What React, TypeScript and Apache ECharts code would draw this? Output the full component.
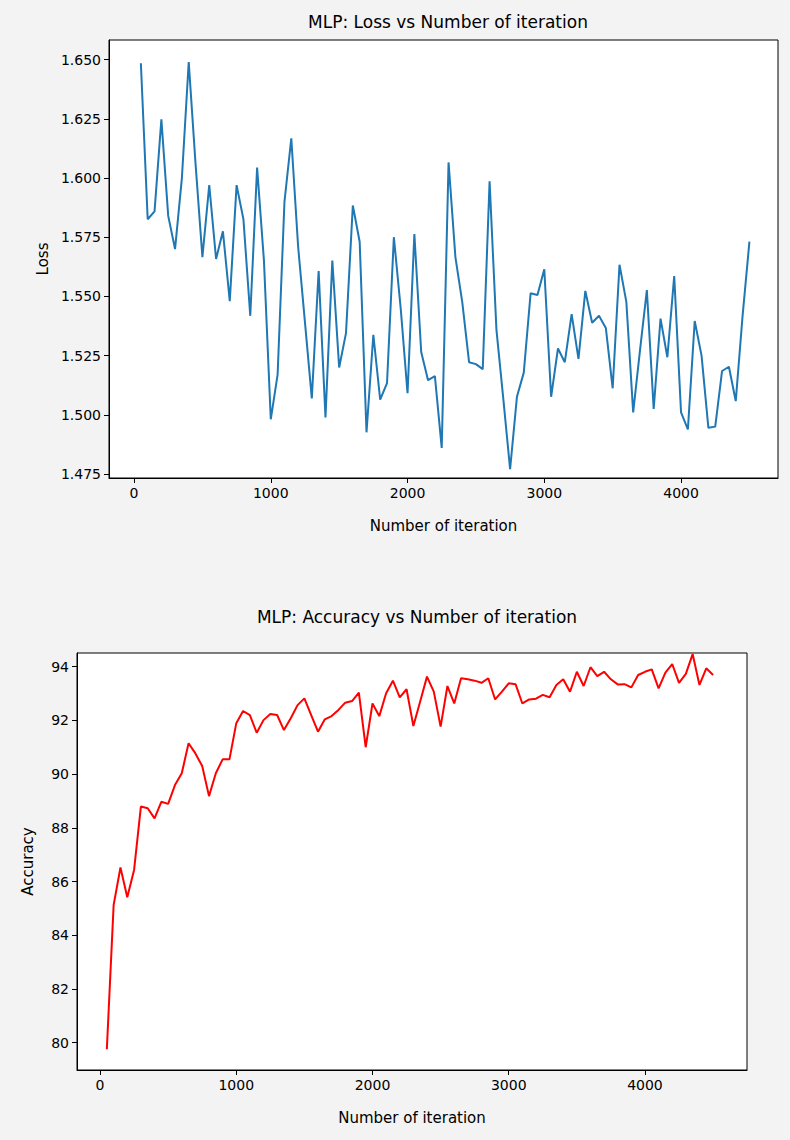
import { useEffect, useRef } from 'react';
import * as echarts from 'echarts';

const iterations = Array.from({ length: 90 }, (_, i) => (i + 1) * 50);

const lossValues = [
  1.6485, 1.5826, 1.5859, 1.6248, 1.584, 1.570, 1.600, 1.649, 1.6059, 1.5666,
  1.597, 1.5658, 1.5775, 1.548, 1.597, 1.5826, 1.5418, 1.6044, 1.5651, 1.4981,
  1.517, 1.5899, 1.6168, 1.571, 1.539, 1.5069, 1.5607, 1.4989, 1.5651, 1.520,
  1.5345, 1.5884, 1.5731, 1.4926, 1.5338, 1.5064, 1.5134, 1.575, 1.545, 1.5091,
  1.5763, 1.5265, 1.5146, 1.5163, 1.486, 1.6066, 1.5666, 1.5477, 1.5222, 1.5214,
  1.5193, 1.5986, 1.536, 1.5069, 1.477, 1.5076, 1.5178, 1.5513, 1.5506, 1.5615,
  1.5076, 1.528, 1.5222, 1.5425, 1.5236, 1.5523, 1.5389, 1.5418, 1.5367, 1.5112,
  1.5634, 1.5477, 1.501, 1.5273, 1.5527, 1.5025, 1.5406, 1.5243, 1.5586, 1.501,
  1.4938, 1.5396, 1.525, 1.4945, 1.495, 1.5185, 1.5203, 1.5058, 1.5418, 1.5731,
];

const accuracyValues = [
  79.75, 85.13, 86.52, 85.41, 86.43, 88.79, 88.73, 88.35, 88.97, 88.89,
  89.59, 90.03, 91.15, 90.77, 90.3, 89.18, 90.03, 90.55, 90.55, 91.89,
  92.35, 92.2, 91.54, 92.01, 92.24, 92.2, 91.64, 92.08, 92.57, 92.82,
  92.2, 91.58, 92.04, 92.16, 92.39, 92.66, 92.72, 93.03, 91.0, 92.63,
  92.16, 93.01, 93.48, 92.86, 93.16, 91.79, 92.7, 93.63, 93.07, 91.77,
  93.28, 92.63, 93.57, 93.53, 93.48, 93.4, 93.57, 92.78, 93.07, 93.38,
  93.35, 92.63, 92.78, 92.81, 92.95, 92.86, 93.32, 93.53, 93.07, 93.81,
  93.28, 93.98, 93.65, 93.81, 93.53, 93.34, 93.35, 93.23, 93.69, 93.81,
  93.9, 93.19, 93.78, 94.1, 93.4, 93.73, 94.47, 93.32, 93.94, 93.69,
];

const xTicks = [0, 1000, 2000, 3000, 4000];
const lossTicks = [1.475, 1.5, 1.525, 1.55, 1.575, 1.6, 1.625, 1.65];
const accTicks = [80, 82, 84, 86, 88, 90, 92, 94];

const font = 'DejaVu Sans';
const axisLine = { show: true, onZero: false, lineStyle: { color: '#000', width: 1 } };

const xAxisBase = (gridIndex: number, min: number, max: number) => ({
  type: 'value',
  gridIndex,
  min,
  max,
  name: 'Number of iteration',
  nameLocation: 'middle',
  nameGap: 40,
  nameTextStyle: { color: '#000', fontSize: 15, fontFamily: font },
  axisLine,
  axisTick: { show: true, inside: false, customValues: xTicks, length: 5, lineStyle: { color: '#000' } },
  axisLabel: { customValues: xTicks, color: '#000', fontSize: 14, fontFamily: font, margin: 8, formatter: (v: number) => String(v) },
  splitLine: { show: false },
});

const App = () => {
  const chartRef = useRef<HTMLDivElement>(null);

  useEffect(() => {
    if (!chartRef.current) return;
    const chart = echarts.init(chartRef.current, null, { renderer: 'svg' });

    chart.setOption({
      animation: false,
      backgroundColor: '#f3f3f3',
      title: [
        { text: 'MLP: Loss vs Number of iteration', left: 443, top: 8, textAlign: 'center', textStyle: { fontSize: 17, fontWeight: 'normal', color: '#000', fontFamily: font } },
        { text: 'MLP: Accuracy vs Number of iteration', left: 412, top: 603, textAlign: 'center', textStyle: { fontSize: 17, fontWeight: 'normal', color: '#000', fontFamily: font } },
      ],
      grid: [
        { left: 109, top: 40, width: 669, height: 438, show: true, backgroundColor: '#fff', borderColor: '#000', borderWidth: 1 },
        { left: 77, top: 653, width: 670, height: 417, show: true, backgroundColor: '#fff', borderColor: '#000', borderWidth: 1 },
      ],
      xAxis: [xAxisBase(0, -183, 4709), xAxisBase(1, -169, 4749)],
      yAxis: [
        {
          type: 'value', gridIndex: 0, min: 1.4733, max: 1.6583,
          name: 'Loss', nameLocation: 'middle', nameGap: 58,
          nameTextStyle: { color: '#000', fontSize: 15, fontFamily: font },
          axisLine,
          axisTick: { show: true, inside: false, customValues: lossTicks, length: 5, lineStyle: { color: '#000' } },
          axisLabel: { customValues: lossTicks, color: '#000', fontSize: 14, fontFamily: font, formatter: (v: number) => v.toFixed(3) },
          splitLine: { show: false },
        },
        {
          type: 'value', gridIndex: 1, min: 78.98, max: 94.51,
          name: 'Accuracy', nameLocation: 'middle', nameGap: 42,
          nameTextStyle: { color: '#000', fontSize: 15, fontFamily: font },
          axisLine,
          axisTick: { show: true, inside: false, customValues: accTicks, length: 5, lineStyle: { color: '#000' } },
          axisLabel: { customValues: accTicks, color: '#000', fontSize: 14, fontFamily: font },
          splitLine: { show: false },
        },
      ],
      series: [
        {
          type: 'line', xAxisIndex: 0, yAxisIndex: 0, showSymbol: false,
          data: iterations.map((x, i) => [x, lossValues[i]]),
          lineStyle: { color: '#1f77b4', width: 2 },
        },
        {
          type: 'line', xAxisIndex: 1, yAxisIndex: 1, showSymbol: false,
          data: iterations.map((x, i) => [x, accuracyValues[i]]),
          lineStyle: { color: '#ff0000', width: 2 },
        },
      ],
    });

    return () => {
      chart.dispose();
    };
  }, []);

  return <div ref={chartRef} style={{ position: 'fixed', left: 0, top: 0, width: '790px', height: '1140px' }} />;
};

export default App;
